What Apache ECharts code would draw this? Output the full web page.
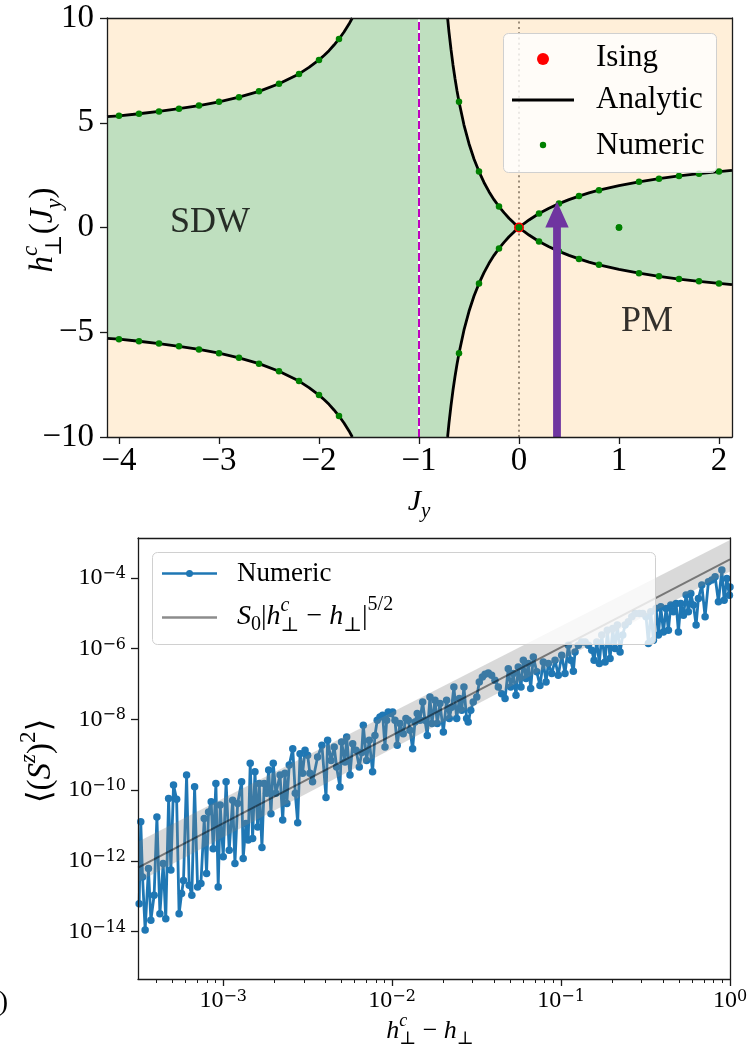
<!DOCTYPE html>
<html>
<head>
<meta charset="utf-8">
<script src="https://cdn.jsdelivr.net/npm/echarts@6/dist/echarts.min.js"></script>
<style>
  html, body { margin: 0; padding: 0; background: #fff; }
  #chart { width: 750px; height: 1051px; }
</style>
</head>
<body>
<div id="chart"></div>
<script>
// ---------------- phase diagram: critical field vs J_y ----------------
// analytic phase boundary, upper branch (the lower branch is its mirror image)
const outerUpper = [[-4.12, 5.29], [-4.0, 5.33], [-3.8, 5.43], [-3.6, 5.54], [-3.4, 5.67], [-3.2, 5.82],
  [-3.0, 6.0], [-2.8, 6.22], [-2.6, 6.5], [-2.4, 6.86], [-2.2, 7.33], [-2.1, 7.64], [-2.0, 8.0],
  [-1.95, 8.21], [-1.9, 8.44], [-1.85, 8.71], [-1.8, 9.0], [-1.75, 9.33], [-1.7, 9.71], [-1.667, 10.0]];
const innerUpper = [[-0.714, 10.0], [-0.7, 9.33], [-0.68, 8.5], [-0.66, 7.76], [-0.64, 7.11], [-0.62, 6.53],
  [-0.6, 6.0], [-0.55, 4.89], [-0.5, 4.0], [-0.45, 3.27], [-0.4, 2.67], [-0.35, 2.15], [-0.3, 1.71],
  [-0.25, 1.33], [-0.2, 1.0], [-0.15, 0.71], [-0.1, 0.44], [-0.05, 0.21], [0, 0]];
const rightUpper = [[0, 0], [0.05, 0.19], [0.1, 0.36], [0.2, 0.67], [0.3, 0.92], [0.4, 1.14], [0.5, 1.33],
  [0.6, 1.5], [0.7, 1.65], [0.8, 1.78], [1.0, 2.0], [1.2, 2.18], [1.4, 2.33], [1.6, 2.46], [1.8, 2.57],
  [2.0, 2.67], [2.13, 2.73]];

// numerically located critical fields
const numericJ    = [-4, -3.8, -3.6, -3.4, -3.2, -3.0, -2.8, -2.6, -2.4, -2.2, -2.0, -1.8,
                     -0.6, -0.4, -0.2, 0, 0.2, 0.4, 0.6, 0.8, 1.0, 1.2, 1.4, 1.6, 1.8, 2.0];
const numericUp   = [5.33, 5.43, 5.54, 5.67, 5.82, 6.0, 6.22, 6.5, 6.86, 7.33, 8.0, 9.0,
                     6.0, 2.67, 1.0, 0, 0.67, 1.14, 1.5, 1.78, 0, 2.18, 2.33, 2.46, 2.57, 2.67];
const numericDown = [-5.33, -5.43, -5.54, -5.67, -5.82, -6.0, -6.22, -6.5, -6.86, -7.33, -8.0, -9.0,
                     -6.0, -2.67, -1.0, 0, -0.67, -1.14, -1.5, -1.78, 0, -2.18, -2.33, -2.46, -2.57, -2.67];
const isingPoint = [0, 0];
const dualLineJ = -1;
const isingLineJ = 0;
const arrowFrom = [0.38, -10];
const arrowTo = [0.38, 1.24];
const phaseNames = [{ name: 'SDW', value: [-3.09, 0.25] }, { name: 'PM', value: [1.28, -4.5] }];
const jTicks = [-4, -3, -2, -1, 0, 1, 2];
const hRange = [-10, 10];

// ---------------- scaling of the order parameter near h_c ----------------
const gap = [
  3.18e-4, 3.25e-4, 3.33e-4, 3.45e-4, 3.61e-4, 3.73e-4, 3.90e-4, 4.05e-4, 4.22e-4, 4.41e-4,
  4.57e-4, 4.75e-4, 4.90e-4, 5.08e-4, 5.30e-4, 5.48e-4, 5.67e-4, 5.82e-4, 6.07e-4, 6.29e-4,
  6.52e-4, 6.77e-4, 7.05e-4, 7.38e-4, 7.72e-4, 7.97e-4, 8.19e-4, 8.49e-4, 8.72e-4, 9.05e-4,
  9.34e-4, 9.60e-4, 1.00e-3, 1.04e-3, 1.085e-3, 1.137e-3, 1.173e-3, 1.217e-3, 1.285e-3, 1.313e-3,
  1.363e-3, 1.406e-3, 1.445e-3, 1.493e-3, 1.541e-3, 1.599e-3, 1.634e-3, 1.695e-3, 1.749e-3, 1.807e-3,
  1.858e-3, 1.917e-3, 1.978e-3, 2.05e-3, 2.17e-3, 2.25e-3, 2.32e-3, 2.38e-3, 2.46e-3, 2.58e-3,
  2.67e-3, 2.76e-3, 2.85e-3, 2.95e-3, 3.05e-3, 3.16e-3, 3.26e-3, 3.38e-3, 3.62e-3, 3.84e-3,
  4.06e-3, 4.15e-3, 4.35e-3, 4.54e-3, 4.69e-3, 4.91e-3, 5.02e-3, 5.26e-3, 5.38e-3, 5.63e-3,
  5.84e-3, 6.11e-3, 6.39e-3, 6.60e-3, 6.75e-3, 7.06e-3, 7.32e-3, 7.66e-3, 7.91e-3, 8.16e-3,
  8.47e-3, 8.79e-3, 9.07e-3, 9.28e-3, 9.48e-3, 9.80e-3, 1.007e-2, 1.039e-2, 1.072e-2, 1.112e-2,
  1.163e-2, 1.207e-2, 1.246e-2, 1.275e-2, 1.322e-2, 1.365e-2, 1.408e-2, 1.461e-2, 1.516e-2, 1.564e-2,
  1.614e-2, 1.674e-2, 1.721e-2, 1.793e-2, 1.850e-2, 1.919e-2, 2.01e-2, 2.10e-2, 2.18e-2, 2.25e-2,
  2.32e-2, 2.41e-2, 2.50e-2, 2.58e-2, 2.66e-2, 2.76e-2, 2.82e-2, 2.92e-2, 3.02e-2, 3.17e-2,
  3.28e-2, 3.42e-2, 3.55e-2, 3.71e-2, 3.88e-2, 4.06e-2, 4.25e-2, 4.45e-2, 4.66e-2, 4.87e-2,
  5.03e-2, 5.22e-2, 5.41e-2, 5.58e-2, 5.79e-2, 5.98e-2, 6.20e-2, 6.40e-2, 6.61e-2, 6.85e-2,
  7.18e-2, 7.50e-2, 7.85e-2, 8.15e-2, 8.41e-2, 8.81e-2, 9.21e-2, 9.63e-2, 0.1009, 0.1055,
  0.1104, 0.1141, 0.1182, 0.1210, 0.1266, 0.1325, 0.1387, 0.1451, 0.1519, 0.1568,
  0.1627, 0.1685, 0.1741, 0.1822, 0.1879, 0.1950, 0.2023, 0.2087, 0.2154, 0.2235,
  0.2318, 0.2393, 0.2503, 0.2622, 0.2742, 0.2908, 0.3046, 0.3185, 0.3288, 0.3397,
  0.3520, 0.3652, 0.3768, 0.3893, 0.4034, 0.4184, 0.4318, 0.4462, 0.4624, 0.4797,
  0.4950, 0.5113, 0.5299, 0.5496, 0.5671, 0.5861, 0.6073, 0.6300, 0.6501, 0.6808,
  0.7121, 0.7452, 0.7804, 0.8164, 0.8541, 0.8948, 0.9232, 0.9576, 0.9922, 1.0
];
const szSquared = [
  6.2e-14, 1.27e-11, 3.5e-13, 1.12e-14, 6.1e-13, 2.1e-14, 1.07e-13, 1.75e-11, 3.2e-14, 8.4e-13,
  2.3e-14, 5.8e-11, 5.5e-13, 1.39e-10, 5.5e-11, 3.2e-14, 1.19e-13, 2.8e-13, 2.66e-10, 2.05e-13,
  1.07e-13, 1.24e-10, 1.84e-13, 2.3e-13, 1.58e-11, 4.4e-13, 2.4e-11, 4.7e-11, 2.2e-12, 1.55e-10,
  1.84e-13, 3.8e-11, 1.30e-12, 1.72e-10, 2.0e-12, 5.2e-11, 8.4e-13, 4.2e-11, 1.72e-10, 1.17e-12,
  1.14e-11, 3.9e-12, 5.7e-10, 4.3e-12, 3.3e-10, 9.1e-12, 1.55e-10, 2.4e-12, 1.55e-10, 8.1e-11,
  3.7e-10, 2.15e-11, 5.7e-10, 8.1e-11, 2.66e-10, 1.42e-11, 3.0e-10, 4.2e-11, 5.1e-10, 1.48e-9,
  8.1e-11, 1.19e-11, 1.07e-9, 3.0e-10, 1.33e-9, 9.6e-10, 3.0e-10, 1.72e-10, 8.6e-10, 1.84e-9,
  6.2e-11, 2.55e-9, 6.9e-10, 1.65e-9, 4.5e-10, 1.22e-10, 2.28e-9, 6.2e-10, 3.16e-9, 2.66e-10,
  2.05e-9, 1.33e-9, 4.5e-10, 1.16e-9, 6.8e-9, 6.9e-10, 2.55e-9, 3.3e-10, 3.5e-9, 9.4e-9,
  1.16e-8, 1.30e-8, 1.65e-9, 9.4e-9, 1.61e-8, 1.45e-8, 1.61e-8, 9.4e-9, 1.84e-9, 7.6e-9,
  3.9e-9, 1.05e-8, 9.4e-9, 4.9e-9, 1.48e-9, 8.4e-9, 1.45e-8, 9.4e-9, 3.1e-8, 9.4e-9,
  3.5e-9, 4.3e-8, 7.6e-9, 3.45e-8, 7.6e-9, 2.8e-8, 4.4e-9, 3.45e-8, 1.05e-8, 2.2e-8,
  8.2e-8, 1.05e-8, 3.85e-8, 1.8e-8, 8.2e-8, 1.05e-8, 8.4e-9, 1.8e-8, 3.1e-8, 4.3e-8,
  1.14e-7, 1.58e-7, 1.88e-7, 2.05e-7, 1.76e-7, 1.27e-7, 8.2e-8, 5.3e-8, 3.85e-8, 2.7e-7,
  8.2e-8, 1.96e-7, 4.8e-8, 3.0e-7, 8.2e-8, 4.7e-7, 1.42e-7, 3.8e-7, 7.4e-8, 5.8e-7,
  2.2e-7, 9.1e-8, 4.2e-7, 1.14e-7, 3.8e-7, 1.96e-7, 4.7e-7, 1.76e-7, 6.5e-7, 1.96e-7,
  1.24e-6, 4.7e-7, 2.28e-7, 8.0e-7, 1.24e-6, 1.54e-6, 1.54e-6, 1.24e-6, 9.0e-7, 4.7e-7,
  1.54e-6, 3.8e-7, 2.4e-6, 4.2e-7, 3.3e-6, 5.2e-7, 3.7e-6, 1.0e-6, 4.6e-6, 8.0e-7,
  2.4e-6, 4.6e-6, 5.7e-6, 7.9e-6, 9.8e-6, 9.8e-6, 9.8e-6, 7.9e-6, 1.39e-6, 1.09e-5,
  1.72e-6, 1.36e-5, 2.4e-6, 1.51e-5, 2.95e-6, 1.36e-5, 3.3e-6, 1.69e-5, 1.09e-5, 1.88e-5,
  2.95e-6, 1.88e-5, 8.8e-6, 3.24e-5, 1.09e-5, 3.6e-5, 1.69e-5, 4.6e-6, 2.6e-5, 6.2e-5,
  7.9e-6, 7.7e-5, 8.6e-5, 1.07e-4, 2.1e-5, 1.65e-4, 2.3e-5, 9.6e-5, 3.2e-5, 5.5e-5
];
// power-law fit S0 |h_c - h|^{5/2} and its uncertainty band (end points)
const fitGap = [3.13e-4, 1];
const fitValue = [6.5e-13, 3.3e-4];
const bandUpper = [3.45e-12, 1.17e-3];
const bandLower = [2.55e-13, 1.5e-4];
const gapTicks = [1e-3, 1e-2, 1e-1, 1];
const gapMinorTicks = [4e-4, 5e-4, 6e-4, 7e-4, 8e-4, 9e-4, 2e-3, 3e-3, 4e-3, 5e-3, 6e-3, 7e-3, 8e-3, 9e-3,
  2e-2, 3e-2, 4e-2, 5e-2, 6e-2, 7e-2, 8e-2, 9e-2, 0.2, 0.3, 0.4, 0.5, 0.6, 0.7, 0.8, 0.9];
const szTicks = [1e-14, 1e-12, 1e-10, 1e-8, 1e-6, 1e-4];
const gapRange = [3.13e-4, 1];
const szRange = [4.6e-16, 1.33e-3];

// ---------------- styling ----------------
const SERIF = '"Liberation Serif", "DejaVu Serif", serif';
const WIDE_SERIF = '"DejaVu Serif", "Liberation Serif", serif';
const INK = '#000';
const SPINE = '#1a1a1a';
const spine = { color: SPINE, width: 1.3 };
const PM_FILL = '#ffefd9';
const SDW_FILL = '#bfdfbf';

const minusFmt = v => (v < 0 ? '\u2212' + Math.abs(v) : String(v));
const powFmt = v => {
  const e = Math.round(Math.log10(v));
  return '{b|10}{s|' + (e < 0 ? '\u2212' : '') + Math.abs(e) + '}';
};
const powRich = {
  b: { fontSize: 24, lineHeight: 24, fontFamily: SERIF, color: INK },
  s: { fontSize: 16, lineHeight: 17, fontFamily: WIDE_SERIF, color: INK, verticalAlign: 'top' }
};

// -------- small typesetting helper for axis titles with sub/superscripts --------
const measureCtx = document.createElement('canvas').getContext('2d');
function textWidth(t, size, italic) {
  measureCtx.font = (italic ? 'italic ' : '') + size + 'px ' + SERIF;
  return measureCtx.measureText(t).width;
}
const tk = (t, size, it, dy) => ({ t, size, it: !!it, dy: dy || 0 });
function mathText(tokens, x, y, opts) {
  opts = opts || {};
  const children = [];
  let cx = 0;
  const put = (tok, at) => children.push({
    type: 'text', x: at, y: tok.dy, z: 60,
    style: {
      text: tok.t, font: (tok.it ? 'italic ' : '') + tok.size + 'px ' + SERIF, fill: INK,
      align: 'left', verticalAlign: 'middle', textAlign: 'left', textVerticalAlign: 'middle'
    }
  });
  tokens.forEach(tok => {
    if (tok.stack) {
      let w = 0;
      tok.stack.forEach(s => { put(s, cx); w = Math.max(w, textWidth(s.t, s.size, s.it)); });
      cx += w;
    } else {
      put(tok, cx);
      cx += textWidth(tok.t, tok.size, tok.it);
    }
  });
  if (opts.center) children.forEach(c => { c.x -= cx / 2; });
  return { type: 'group', x, y, rotation: opts.rotation || 0, z: 60, children };
}
const plainText = (t, x, y, size, align) => ({
  type: 'text', x, y, z: 60,
  style: { text: t, font: size + 'px ' + SERIF, fill: INK, align: align || 'left', verticalAlign: 'middle',
           textAlign: align || 'left', textVerticalAlign: 'middle' }
});

// ---------------- derived series data ----------------
const mirror = pts => pts.map(p => [p[0], -p[1]]);
const boundaryTop = outerUpper.concat(innerUpper, rightUpper.slice(1));
const boundaryBottom = mirror(boundaryTop).reverse();
const numericPts = numericJ.map((j, i) => [j, numericUp[i]]).concat(numericJ.map((j, i) => [j, numericDown[i]]));
const scalingPts = gap.map((g, i) => [g, szSquared[i]]);

const chart = echarts.init(document.getElementById('chart'), null, { renderer: 'canvas' });

const curveSeries = [outerUpper, innerUpper, rightUpper, mirror(outerUpper), mirror(innerUpper), mirror(rightUpper)]
  .map(pts => ({
    type: 'line', xAxisIndex: 0, yAxisIndex: 0, data: pts, symbol: 'none', z: 5, clip: true,
    lineStyle: { color: '#000', width: 2.8 }, silent: true
  }));

const option = {
  animation: false,
  backgroundColor: '#fff',
  grid: [
    { left: 107, top: 18, width: 625, height: 419, show: true, backgroundColor: PM_FILL, borderWidth: 0,
      containLabel: false, outerBoundsMode: 'none' },
    { left: 138, top: 538, width: 592, height: 441, show: false, containLabel: false, outerBoundsMode: 'none' }
  ],
  xAxis: [
    { gridIndex: 0, type: 'value', min: -4.12, max: 2.13, position: 'bottom', z: 10,
      axisLine: { show: true, onZero: false, lineStyle: spine },
      axisTick: { show: true, length: 7, customValues: jTicks, lineStyle: spine },
      axisLabel: { customValues: jTicks, margin: 8, formatter: minusFmt, color: INK, fontSize: 33, fontFamily: SERIF },
      splitLine: { show: false } },
    { gridIndex: 0, type: 'value', min: -4.12, max: 2.13, position: 'top', z: 10,
      axisLine: { show: true, onZero: false, lineStyle: spine },
      axisTick: { show: false }, axisLabel: { show: false }, splitLine: { show: false } },
    { gridIndex: 1, type: 'log', logBase: 10, min: gapRange[0], max: gapRange[1], position: 'bottom', z: 10,
      axisLine: { show: true, onZero: false, lineStyle: spine },
      axisTick: { show: true, length: 7, customValues: gapTicks, lineStyle: spine },
      axisLabel: { customValues: gapTicks, margin: 10, formatter: powFmt, rich: powRich, color: INK },
      splitLine: { show: false }, minorTick: { show: false } },
    { gridIndex: 1, type: 'log', logBase: 10, min: gapRange[0], max: gapRange[1], position: 'bottom', z: 10,
      axisLine: { show: false, onZero: false },
      axisTick: { show: true, length: 4, customValues: gapMinorTicks, lineStyle: { color: SPINE, width: 1 } },
      axisLabel: { show: false }, splitLine: { show: false } },
    { gridIndex: 1, type: 'log', logBase: 10, min: gapRange[0], max: gapRange[1], position: 'top', z: 10,
      axisLine: { show: true, onZero: false, lineStyle: spine },
      axisTick: { show: false }, axisLabel: { show: false }, splitLine: { show: false } }
  ],
  yAxis: [
    { gridIndex: 0, type: 'value', min: hRange[0], max: hRange[1], interval: 5, position: 'left', z: 10,
      axisLine: { show: true, onZero: false, lineStyle: spine },
      axisTick: { show: true, length: 7, lineStyle: spine },
      axisLabel: { margin: 13, formatter: minusFmt, color: INK, fontSize: 33, fontFamily: SERIF },
      splitLine: { show: false } },
    { gridIndex: 0, type: 'value', min: hRange[0], max: hRange[1], position: 'right', z: 10,
      axisLine: { show: true, onZero: false, lineStyle: spine },
      axisTick: { show: false }, axisLabel: { show: false }, splitLine: { show: false } },
    { gridIndex: 1, type: 'log', logBase: 10, min: szRange[0], max: szRange[1], position: 'left', z: 10,
      axisLine: { show: true, onZero: false, lineStyle: spine },
      axisTick: { show: true, length: 7, customValues: szTicks, lineStyle: spine },
      axisLabel: { customValues: szTicks, margin: 12, formatter: powFmt, rich: powRich, color: INK },
      splitLine: { show: false }, minorTick: { show: false } },
    { gridIndex: 1, type: 'log', logBase: 10, min: szRange[0], max: szRange[1], position: 'right', z: 10,
      axisLine: { show: true, onZero: false, lineStyle: spine },
      axisTick: { show: false }, axisLabel: { show: false }, splitLine: { show: false } }
  ],
  series: [
    // SDW region: between the upper and lower phase boundary
    { type: 'custom', xAxisIndex: 0, yAxisIndex: 0, z: 1, clip: true, silent: true,
      data: [[0, 0]],
      renderItem: (params, api) => ({
        type: 'polygon',
        shape: { points: boundaryTop.concat(boundaryBottom).map(p => api.coord(p)) },
        style: { fill: SDW_FILL }
      }) },
    // J_y = 0 guide
    { type: 'line', xAxisIndex: 0, yAxisIndex: 0, z: 3, symbol: 'none', silent: true,
      data: [[isingLineJ, hRange[0]], [isingLineJ, hRange[1]]],
      lineStyle: { color: '#9c8d7a', width: 2, type: [2, 3.3] } },
    // J_y = -1 line
    { type: 'line', xAxisIndex: 0, yAxisIndex: 0, z: 3, symbol: 'none', silent: true,
      data: [[dualLineJ, hRange[0]], [dualLineJ, hRange[1]]],
      lineStyle: { color: '#ffffff', width: 2 } },
    { type: 'line', xAxisIndex: 0, yAxisIndex: 0, z: 4, symbol: 'none', silent: true,
      data: [[dualLineJ, hRange[0]], [dualLineJ, hRange[1]]],
      lineStyle: { color: '#bf00bf', width: 2, type: [8, 3] } },
    ...curveSeries,
    { type: 'scatter', xAxisIndex: 0, yAxisIndex: 0, z: 6, data: [isingPoint], symbol: 'circle', symbolSize: 10,
      itemStyle: { color: '#ff0000', opacity: 1 }, silent: true },
    { type: 'scatter', xAxisIndex: 0, yAxisIndex: 0, z: 7, data: numericPts, symbol: 'circle', symbolSize: 6.5,
      itemStyle: { color: '#008000', opacity: 1 }, silent: true },
    // field sweep arrow
    { type: 'custom', xAxisIndex: 0, yAxisIndex: 0, z: 8, clip: true, silent: true,
      data: [[arrowTo[0], arrowTo[1]]],
      renderItem: (params, api) => {
        const p0 = api.coord(arrowFrom), p1 = api.coord(arrowTo);
        const bw = 3.9, hw = 11.7, hl = 26;
        const x = p1[0], yb = p1[1] + hl;
        return { type: 'polygon',
          shape: { points: [[x - bw, p0[1]], [x - bw, yb], [x - hw, yb], [x, p1[1]], [x + hw, yb], [x + bw, yb], [x + bw, p0[1]]] },
          style: { fill: '#6f35a0' } };
      } },
    // phase names
    { type: 'scatter', xAxisIndex: 0, yAxisIndex: 0, z: 9, data: phaseNames, symbolSize: 0, silent: true,
      label: { show: true, position: 'inside', formatter: '{b}', color: INK, fontSize: 36, fontFamily: SERIF } },

    // scaling panel
    { type: 'line', xAxisIndex: 2, yAxisIndex: 2, z: 3, data: scalingPts, symbol: 'circle', symbolSize: 7.5,
      showSymbol: true, clip: true, silent: true,
      lineStyle: { color: '#1f77b4', width: 2.8 }, itemStyle: { color: '#1f77b4' } },
    { type: 'custom', xAxisIndex: 2, yAxisIndex: 2, z: 4, clip: true, silent: true,
      data: [[fitGap[0], fitValue[0]]],
      renderItem: (params, api) => ({
        type: 'polygon',
        shape: { points: [
          api.coord([fitGap[0], bandUpper[0]]), api.coord([fitGap[1], bandUpper[1]]),
          api.coord([fitGap[1], bandLower[1]]), api.coord([fitGap[0], bandLower[0]])] },
        style: { fill: 'rgba(128,128,128,0.3)' }
      }) },
    { type: 'line', xAxisIndex: 2, yAxisIndex: 2, z: 5, symbol: 'none', clip: true, silent: true,
      data: [[fitGap[0], fitValue[0]], [fitGap[1], fitValue[1]]],
      lineStyle: { color: 'rgba(0,0,0,0.45)', width: 2 } }
  ],
  graphic: [
    // legend, phase diagram
    { type: 'rect', z: 50, shape: { x: 503.5, y: 33.5, width: 213, height: 139, r: 5 },
      style: { fill: 'rgba(255,255,255,0.8)', stroke: '#d0d0d0', lineWidth: 1 } },
    { type: 'circle', z: 51, shape: { cx: 543, cy: 59, r: 6 }, style: { fill: '#ff0000' } },
    plainText('Ising', 596, 58, 31),
    { type: 'line', z: 51, shape: { x1: 512, y1: 100, x2: 574, y2: 100 }, style: { stroke: '#000', lineWidth: 3.2 } },
    plainText('Analytic', 596, 100, 31),
    { type: 'circle', z: 51, shape: { cx: 543, cy: 145, r: 3.2 }, style: { fill: '#008000' } },
    plainText('Numeric', 596, 146, 31),

    // legend, scaling panel
    { type: 'rect', z: 50, shape: { x: 152.5, y: 552.5, width: 503, height: 92, r: 5 },
      style: { fill: 'rgba(255,255,255,0.8)', stroke: '#d0d0d0', lineWidth: 1 } },
    { type: 'line', z: 51, shape: { x1: 162, y1: 573.5, x2: 217, y2: 573.5 }, style: { stroke: '#1f77b4', lineWidth: 2.5 } },
    { type: 'circle', z: 52, shape: { cx: 189.5, cy: 573.5, r: 3.5 }, style: { fill: '#1f77b4' } },
    plainText('Numeric', 237, 574, 27),
    { type: 'line', z: 51, shape: { x1: 162, y1: 617.5, x2: 217, y2: 617.5 }, style: { stroke: 'rgba(0,0,0,0.45)', lineWidth: 2.5 } },
    mathText([tk('S', 28, 1), tk('0', 20, 0, 8), tk('|', 28), tk('h', 28, 1),
      { stack: [tk('c', 20, 1, -11), tk('\u22A5', 20, 0, 9)] }, tk(' \u2212 ', 28), tk('h', 28, 1),
      tk('\u22A5', 20, 0, 9), tk('|', 28), tk('5/2', 20, 0, -12)], 237, 617),

    // axis titles
    mathText([tk('h', 33, 1), { stack: [tk('c', 23, 1, -13), tk('\u22A5', 23, 0, 11)] }, tk('(', 33),
      tk('J', 33, 1), tk('y', 23, 1, 11), tk(')', 33)], 43.5, 230, { center: true, rotation: Math.PI / 2 }),
    mathText([tk('J', 30, 1), tk('y', 21, 1, 9)], 419, 502, { center: true }),
    mathText([tk('\u27E8', 33), tk('(', 33), tk('S', 33, 1), tk('z', 23, 1, -13), tk(')', 33),
      tk('2', 23, 0, -13), tk('\u27E9', 33)], 41.5, 761, { center: true, rotation: Math.PI / 2 }),
    mathText([tk('h', 26, 1), { stack: [tk('c', 18, 1, -10), tk('\u22A5', 18, 0, 8)] }, tk(' \u2212 ', 26),
      tk('h', 26, 1), tk('\u22A5', 18, 0, 8)], 430, 1031, { center: true }),

    // edge of a neighbouring label
    plainText(')', 8, 1003, 28, 'right')
  ]
};

chart.setOption(option);
</script>
</body>
</html>
